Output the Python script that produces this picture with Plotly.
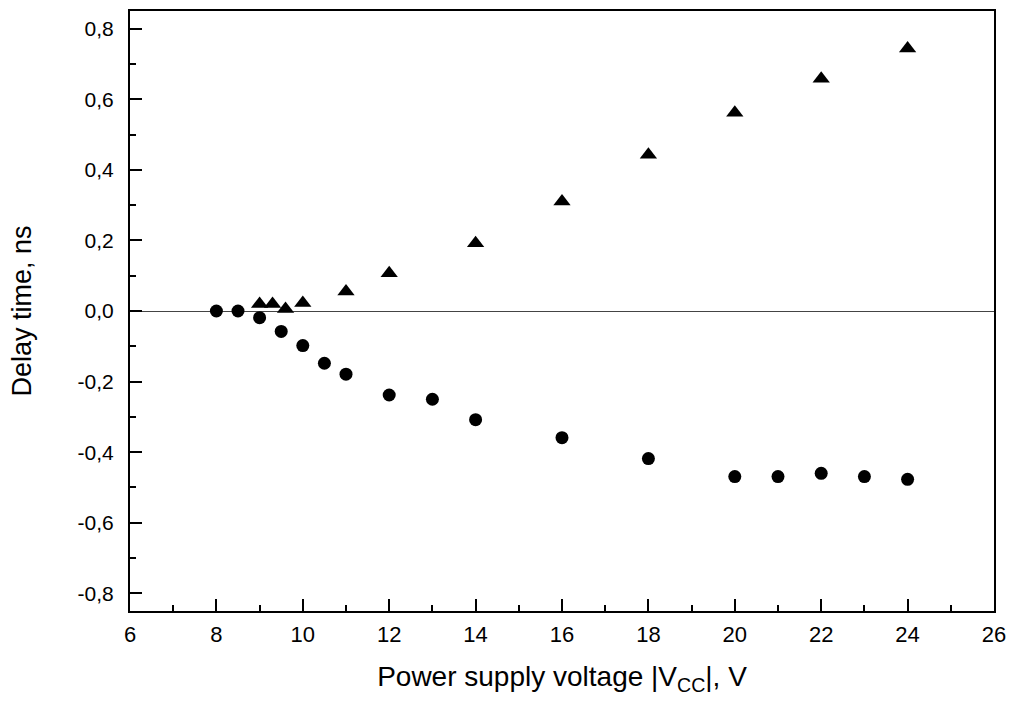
import plotly.graph_objects as go

# Circles (lower series)
x_circ = [8, 8.5, 9, 9.5, 10, 10.5, 11, 12, 13, 14, 16, 18, 20, 21, 22, 23, 24]
y_circ = [0.0, 0.0, -0.019, -0.058, -0.098, -0.148, -0.179, -0.238, -0.25, -0.308,
          -0.359, -0.418, -0.469, -0.469, -0.46, -0.469, -0.477]

# Triangles (upper series)
x_tri = [9, 9.3, 9.6, 10, 11, 12, 14, 16, 18, 20, 22, 24]
y_tri = [0.02, 0.02, 0.006, 0.023, 0.055, 0.107, 0.192, 0.31, 0.443, 0.562, 0.658, 0.744]

x_ticks = [6, 8, 10, 12, 14, 16, 18, 20, 22, 24, 26]
y_ticks = [-0.8, -0.6, -0.4, -0.2, 0.0, 0.2, 0.4, 0.6, 0.8]
y_labels = ["-0,8", "-0,6", "-0,4", "-0,2", "0,0", "0,2", "0,4", "0,6", "0,8"]

fig = go.Figure()
fig.add_trace(go.Scatter(x=x_circ, y=y_circ, mode="markers",
                         marker=dict(symbol="circle", size=13, color="black"),
                         showlegend=False))
fig.add_trace(go.Scatter(x=x_tri, y=y_tri, mode="markers",
                         marker=dict(symbol="triangle-up", size=15, color="black"),
                         showlegend=False))

fam = "Liberation Sans, Arial, sans-serif"

fig.update_layout(
    width=1015, height=707,
    margin=dict(l=130, r=19, t=9, b=96),
    paper_bgcolor="white", plot_bgcolor="white",
    font=dict(family=fam, color="black", size=20),
    xaxis=dict(
        range=[6, 26], tickvals=x_ticks, ticktext=[str(v) for v in x_ticks],
        ticks="inside", ticklen=12, tickwidth=2, tickcolor="black",
        minor=dict(dtick=1, ticks="inside", ticklen=6, tickwidth=2, tickcolor="black"),
        showline=True, linewidth=2, linecolor="black", mirror=True,
        showgrid=False, zeroline=False, ticklabelstandoff=3,
        tickfont=dict(size=22, family=fam, color="black"),
        title=dict(text="Power supply voltage |V<sub>CC</sub>|, V",
                   font=dict(size=28, family=fam, color="black"), standoff=20),
    ),
    yaxis=dict(
        range=[-0.85, 0.85], tickvals=y_ticks, ticktext=y_labels,
        ticks="inside", ticklen=12, tickwidth=2, tickcolor="black",
        minor=dict(dtick=0.1, tick0=0, ticks="inside", ticklen=6, tickwidth=2, tickcolor="black"),
        showline=True, linewidth=2, linecolor="black", mirror=True,
        showgrid=False, zeroline=True, zerolinecolor="#444444", zerolinewidth=1,
        ticklabelstandoff=10,
        tickfont=dict(size=21, family=fam, color="black"),
        title=dict(text="Delay time, ns",
                   font=dict(size=27, family=fam, color="black"), standoff=38),
    ),
)

fig.write_html("out.html", config={"displayModeBar": False},
               post_script="document.body.style.margin='0';")
